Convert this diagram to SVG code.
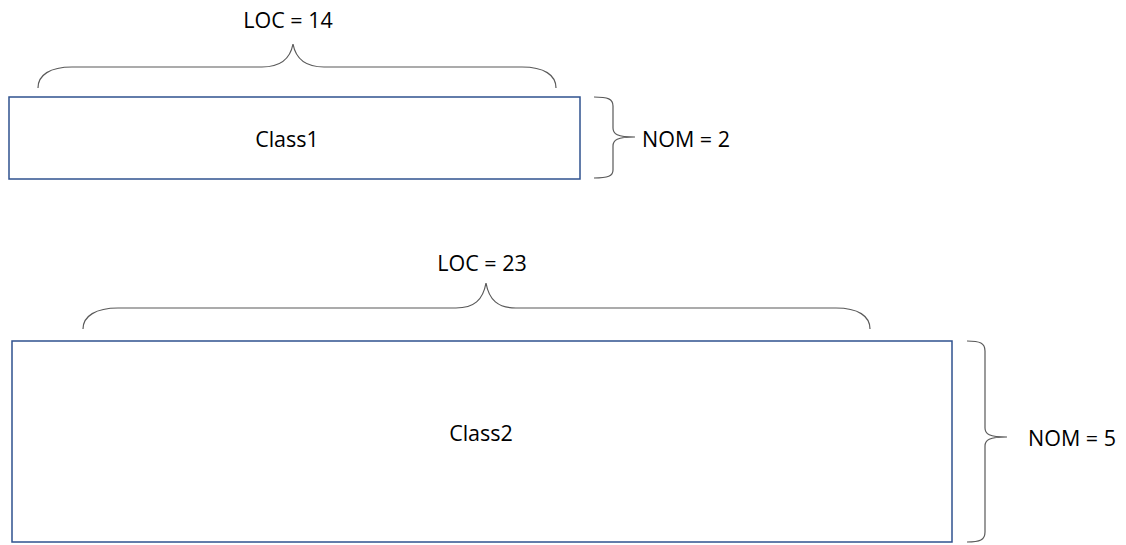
<svg xmlns="http://www.w3.org/2000/svg" width="1126" height="545" viewBox="0 0 1126 545">
  <style>
    .box { fill: #ffffff; stroke: #2f528f; stroke-width: 1.5; }
    .brace { fill: none; stroke: #595959; stroke-width: 1.2; }
    .label { font-family: "Open Sans", "Liberation Sans", sans-serif; font-size: 21.5px; fill: #000000; }
  </style>
  <rect width="1126" height="545" fill="#ffffff"/>

  <!-- Class1 -->
  <g id="class1">
    <rect class="box" x="9" y="97" width="571" height="82"/>
    <text class="label" x="287" y="147" text-anchor="middle">Class1</text>
  </g>

  <!-- Class2 -->
  <g id="class2">
    <rect class="box" x="12" y="341" width="940" height="201"/>
    <text class="label" x="481" y="441" text-anchor="middle">Class2</text>
  </g>

  <!-- Brace annotations -->
  <g id="connectors">
    <!-- LOC brace over Class1 -->
    <path class="brace" d="M38,88 C38,75 50,67 72,67 L262,67 C280,67 290,60 293,44 C296,60 306,67 324,67 L522,67 C544,67 556,75 556,88"/>
    <!-- NOM brace beside Class1 -->
    <path class="brace" d="M594,97 C608,97 613,99 613,106 L613,128 C613,134 617,137 635,137 C617,137 613,140 613,146 L613,170 C613,176 608,178 594,178"/>
    <!-- LOC brace over Class2 -->
    <path class="brace" d="M83,329 C83,316 96,308 118,308 L456,308 C474,308 483,300 486,283 C489,300 498,308 516,308 L836,308 C858,308 870,316 870,329"/>
    <!-- NOM brace beside Class2 -->
    <path class="brace" d="M967,341 C980,341 985,343 985,351 L985,428 C985,434 989,437 1007,437 C989,437 985,440 985,446 L985,532 C985,540 980,542 967,542"/>
  </g>

  <g id="metrics">
    <text id="loc1" class="label" x="288" y="28" text-anchor="middle">LOC = 14</text>
    <text id="nom1" class="label" x="642" y="147">NOM = 2</text>
    <text id="loc2" class="label" x="482" y="271" text-anchor="middle">LOC = 23</text>
    <text id="nom2" class="label" x="1028" y="446">NOM = 5</text>
  </g>
</svg>
